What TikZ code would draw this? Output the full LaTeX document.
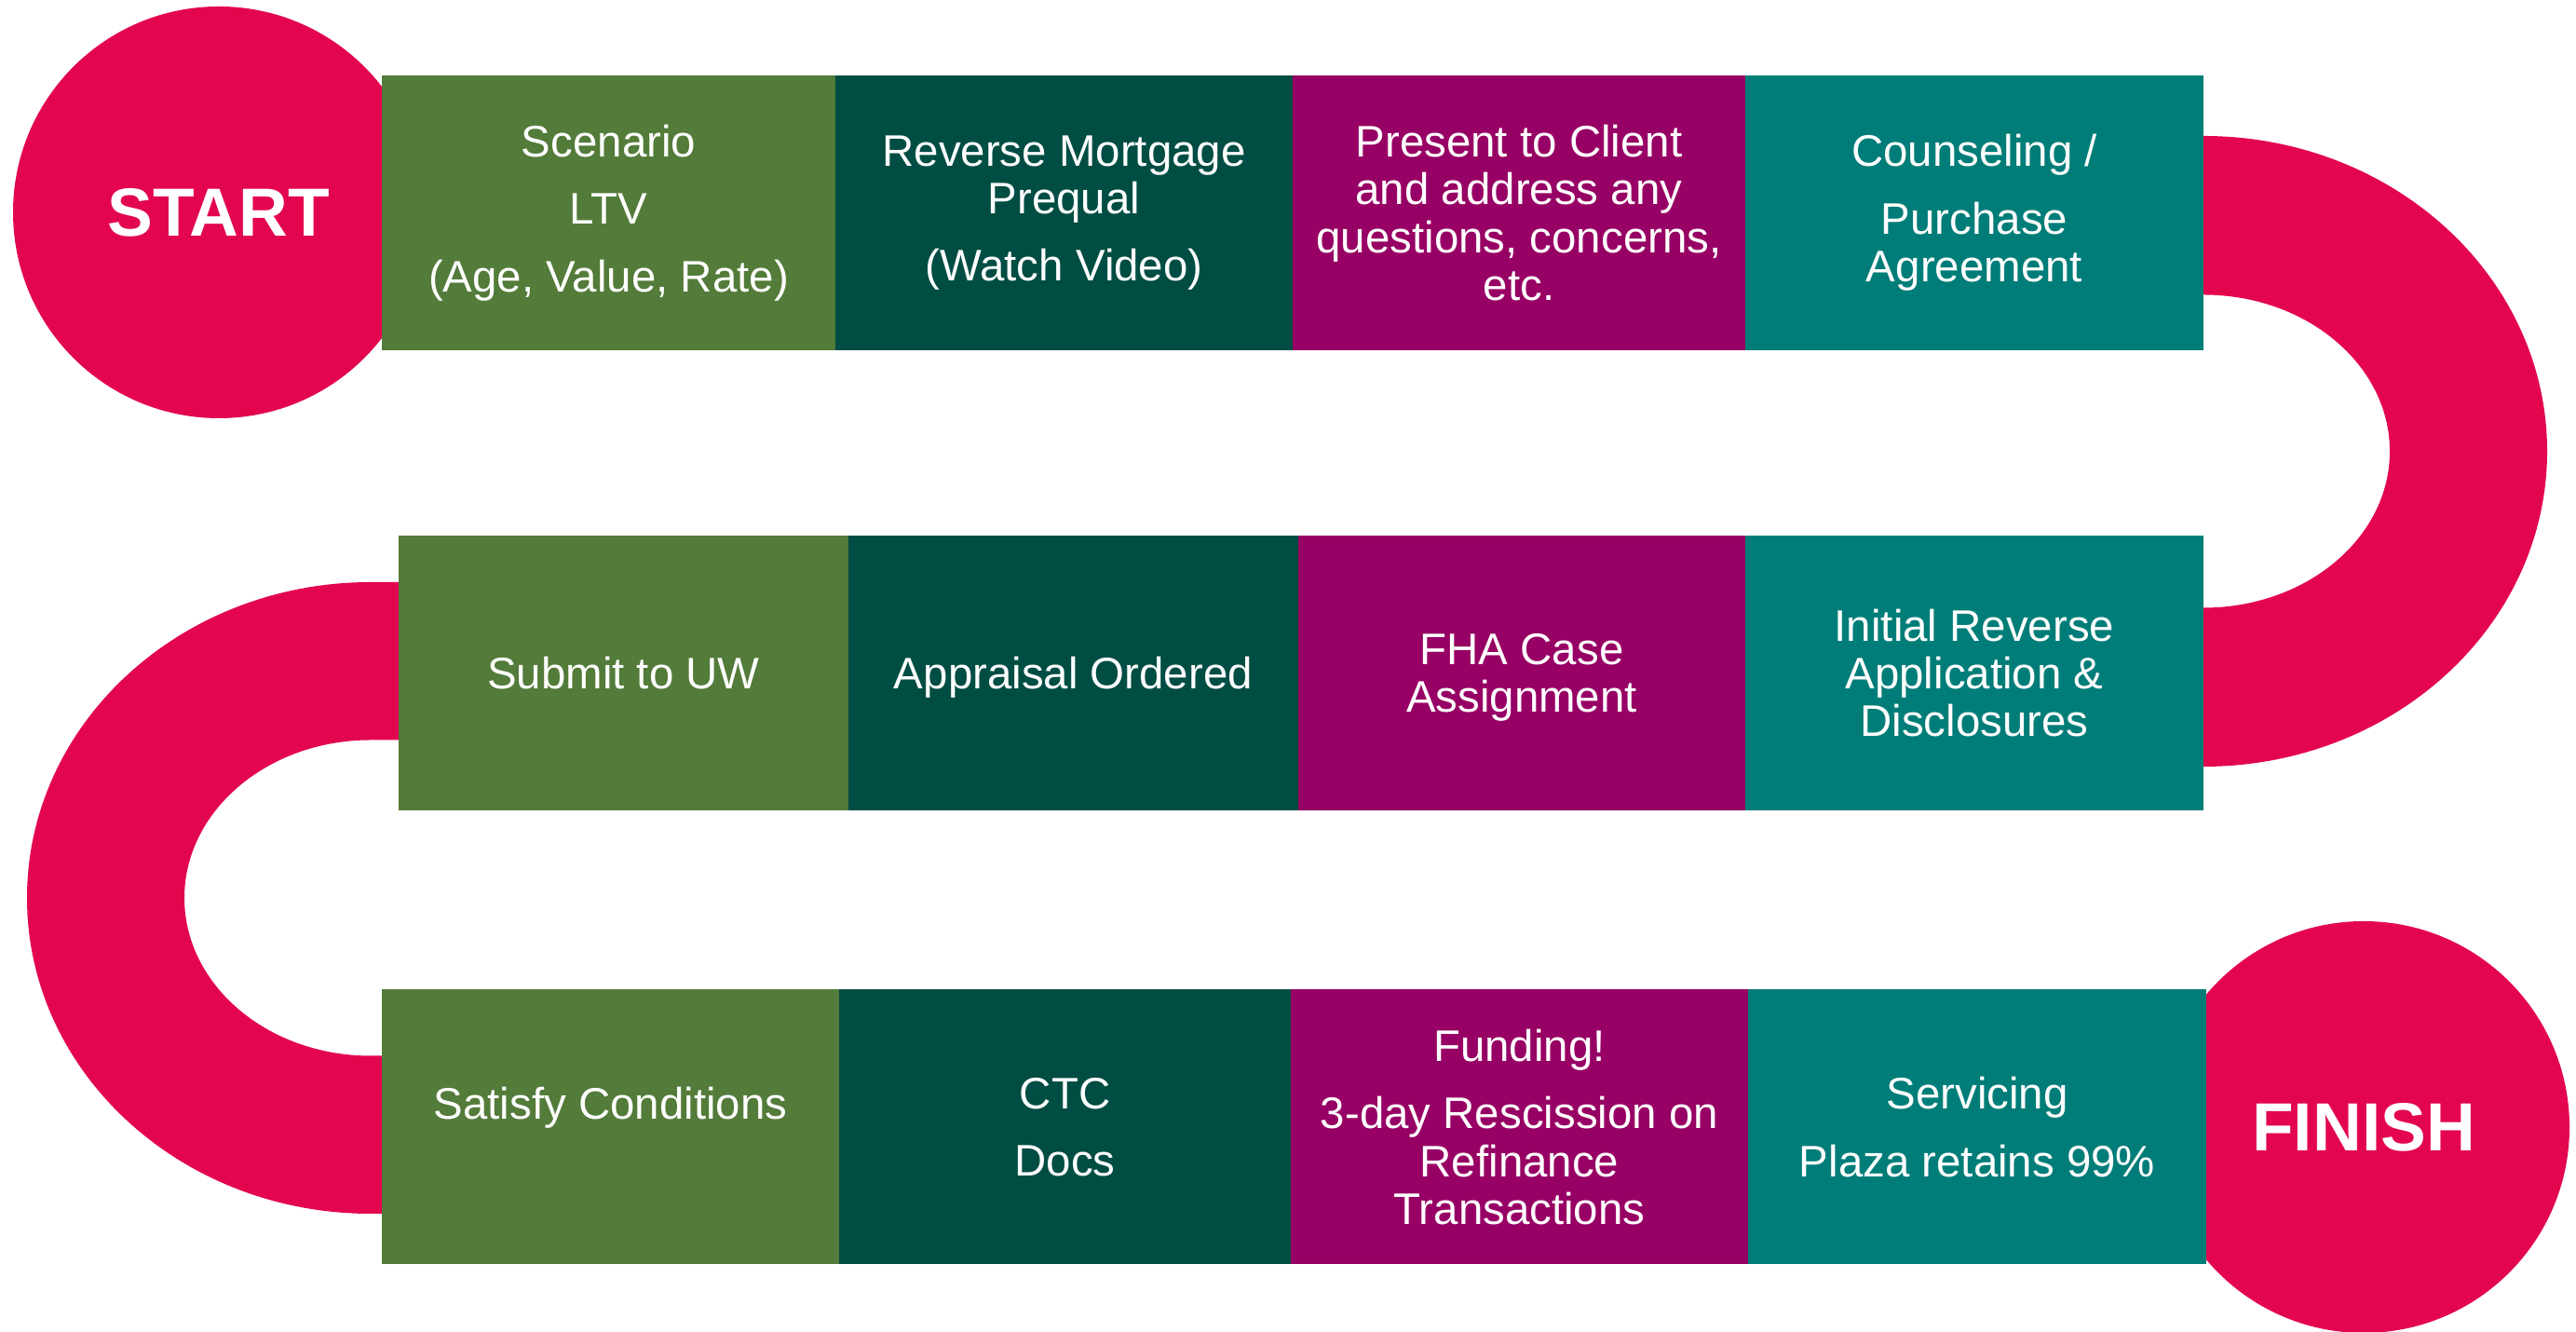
\documentclass[tikz,border=0pt]{standalone}
\usepackage{fontspec}
\setmainfont{Liberation Sans}
\usetikzlibrary{positioning}

\definecolor{roadpink}{HTML}{E3064E}
\definecolor{leaf}{HTML}{537B39}
\definecolor{pine}{HTML}{004D43}
\definecolor{plum}{HTML}{970064}
\definecolor{sea}{HTML}{007D78}

\begin{document}
\begin{tikzpicture}[
		caption/.style = {text=white, align=center, font=\fontsize{13.5}{14.6}\selectfont},
		stage/.style = {caption, rectangle, inner sep=0pt, outer sep=0pt, minimum height=2.95cm},
		endpoint/.style = {circle, fill=roadpink, minimum size=4.42cm, inner sep=0pt, text=white, font=\fontsize{20.8}{24}\selectfont\bfseries}
		]

	\useasboundingbox (0,0) rectangle (27.66,14.30);

	% the two bends of the road, half hidden behind the rows
	\fill[roadpink] (22.66,12.84) -- (23.66,12.84) arc[start angle=90, end angle=-90, x radius=3.69, y radius=3.385] -- (22.66,6.07) -- (22.66,7.775) -- (23.66,7.775) arc[start angle=-90, end angle=90, x radius=2.00, y radius=1.68] -- (22.66,11.135) -- cycle;
	\fill[roadpink] (4.98,8.05) -- (3.98,8.05) arc[start angle=90, end angle=270, x radius=3.69, y radius=3.39] -- (4.98,1.27) -- (4.98,2.965) -- (3.98,2.965) arc[start angle=270, end angle=90, x radius=2.00, y radius=1.695] -- (4.98,6.355) -- cycle;

	\node[endpoint] (start) at (2.35,12.02) {START};
	\node[endpoint] (finish) at (25.38,2.20) {FINISH};

	% first row
	\node[stage, fill=leaf, minimum width=4.87cm, anchor=west] (scenario) at (4.10,12.015) {Scenario\\[6pt]LTV\\[6pt](Age, Value, Rate)};
	\node[stage, fill=pine, minimum width=4.91cm, right=0pt of scenario] (prequal) {Reverse Mortgage\\Prequal\\[6pt](Watch Video)};
	\node[stage, fill=plum, minimum width=4.86cm, right=0pt of prequal] (present) {Present to Client\\and address any\\questions, concerns,\\etc.};
	\node[stage, fill=sea, minimum width=4.92cm, right=0pt of present] (counsel) {Counseling /\\[6pt]Purchase\\Agreement};

	% second row
	\node[stage, fill=leaf, minimum width=4.83cm, anchor=west] (submit) at (4.28,7.075) {Submit to UW};
	\node[stage, fill=pine, minimum width=4.83cm, text depth=0pt, right=0pt of submit] (appraisal) {Appraisal Ordered};
	\node[stage, fill=plum, minimum width=4.80cm, right=0pt of appraisal] (fha) {FHA Case\\\smash{Assignment}};
	\node[stage, fill=sea, minimum width=4.92cm, right=0pt of fha] (initial) {Initial Reverse\\Application \&\\Disclosures};

	% third row
	\node[stage, fill=leaf, minimum width=4.91cm, anchor=west] (satisfy) at (4.10,2.20) {};
	\node[caption, text depth=0pt] (satisfytext) at ([yshift=0.26cm]satisfy.center) {Satisfy Conditions};
	\node[stage, fill=pine, minimum width=4.85cm, right=0pt of satisfy] (ctc) {CTC\\[6pt]Docs};
	\node[stage, fill=plum, minimum width=4.91cm, right=0pt of ctc] (funding) {Funding!\\[6pt]3-day Rescission on\\Refinance\\Transactions};
	\node[stage, fill=sea, minimum width=4.92cm, right=0pt of funding] (servicing) {Servicing\\[6pt]Plaza retains 99\%};
\end{tikzpicture}
\end{document}
